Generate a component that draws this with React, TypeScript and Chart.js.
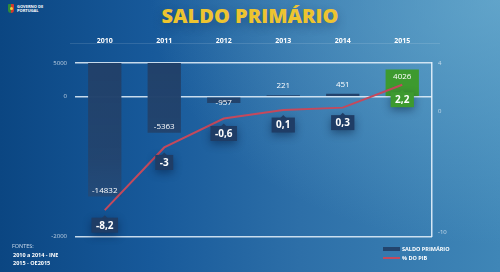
import React, { useEffect, useRef } from "react";
import { Chart, registerables } from "chart.js";

Chart.register(...registerables);

// ---- data ----
const years = ["2010", "2011", "2012", "2013", "2014", "2015"];
const saldo = [-14832, -5363, -957, 221, 451, 4026];
const barStart = [5000, 5000, 0, 0, 0, 0];
const pib = [-8.2, -3, -0.6, 0.1, 0.3, 2.2];
const leftTickValues = [5000, 0, -20800];
const leftTickLabels = ["5000", "0", "-2000"];
const rightTickValues = [4, 0, -10];
const rightTickLabels = ["4", "0", "-10"];

const LEFT_MAX = 5000;
const LEFT_MIN = -20800;
const RIGHT_MAX = 4;
const RIGHT_MIN = -10.4;

const NAVY = "#23446d";
const GREEN = "#3d9a2f";
const RED = "#c4495c";
const LABEL_NAVY = "#1f3d66";

const labelPlugin = {
  id: "valueLabels",
  afterDatasetsDraw(chart: any) {
    const ctx = chart.ctx as CanvasRenderingContext2D;
    const barMeta = chart.getDatasetMeta(0);
    const lineMeta = chart.getDatasetMeta(1);
    const last = saldo.length - 1;
    ctx.save();
    ctx.textAlign = "center";
    ctx.textBaseline = "middle";
    ctx.font = "8px 'Open Sans', sans-serif";
    ctx.fillStyle = "#ffffff";
    barMeta.data.forEach((el: any, i: number) => {
      const p = el.getProps(["x", "y", "base"], true);
      const v = saldo[i];
      const top = Math.min(p.y, p.base);
      const bottom = Math.max(p.y, p.base);
      let ty: number;
      if (v < 0) ty = bottom - top > 20 ? bottom - 6 : top + 5;
      else ty = bottom - top > 15 ? top + 7 : top - 9;
      ctx.fillText(String(v), p.x, ty);
    });

    ctx.font = "bold 10px 'Open Sans', sans-serif";
    lineMeta.data.forEach((pt: any, i: number) => {
      const p = pt.getProps(["x", "y"], true);
      const txt = String(pib[i]).replace(".", ",");
      const w = ctx.measureText(txt).width + 9;
      const h = 15;
      const cy = p.y + 15;
      const bx = p.x - w / 2;
      const by = cy - h / 2;
      ctx.save();
      ctx.shadowColor = "rgba(0,20,50,0.45)";
      ctx.shadowBlur = 8;
      ctx.shadowOffsetY = 3;
      ctx.fillStyle = i === last ? GREEN : LABEL_NAVY;
      ctx.fillRect(bx, by, w, h);
      ctx.restore();
      ctx.fillStyle = i === last ? GREEN : LABEL_NAVY;
      ctx.beginPath();
      ctx.moveTo(p.x - 3, by + 0.5);
      ctx.lineTo(p.x, by - 2.5);
      ctx.lineTo(p.x + 3, by + 0.5);
      ctx.closePath();
      ctx.fill();
      ctx.fillStyle = "#ffffff";
      ctx.fillText(txt, p.x, cy + 0.5);
    });
    ctx.restore();
  },
};

function ChartCanvas() {
  const ref = useRef<HTMLCanvasElement | null>(null);
  useEffect(() => {
    if (!ref.current) return;
    const last = saldo.length - 1;
    const chart = new Chart(ref.current, {
      data: {
        labels: years,
        datasets: [
          {
            type: "bar",
            label: "SALDO PRIMÁRIO",
            data: saldo.map((v, i) => [barStart[i], v]) as any,
            backgroundColor: (c: any) => {
              if (c.dataIndex === last) return GREEN;
              const ca = c.chart.chartArea;
              if (!ca) return NAVY;
              const g = c.chart.ctx.createLinearGradient(0, ca.top, 0, ca.bottom);
              g.addColorStop(0, "rgba(33,65,106,1)");
              g.addColorStop(0.55, "rgba(35,68,110,0.95)");
              g.addColorStop(0.85, "rgba(40,75,118,0.75)");
              g.addColorStop(1, "rgba(40,75,118,0.6)");
              return g;
            },
            borderWidth: 0,
            barPercentage: 0.56,
            categoryPercentage: 1,
            yAxisID: "y",
            order: 2,
          },
          {
            type: "line",
            label: "% DO PIB",
            data: pib,
            borderColor: RED,
            borderWidth: 2,
            pointRadius: 0,
            tension: 0,
            yAxisID: "y2",
            order: 1,
          },
        ],
      } as any,
      options: {
        animation: false,
        responsive: true,
        maintainAspectRatio: false,
        layout: { padding: { left: 0, right: 0, top: 0, bottom: 35.3 } },
        plugins: {
          legend: { display: false },
          tooltip: { enabled: false },
          title: { display: false },
        },
        scales: {
          x: {
            position: "top",
            grid: { display: false },
            border: { display: false },
            ticks: {
              color: "#ffffff",
              font: { family: "'Open Sans', sans-serif", size: 7, weight: "bold" },
              padding: 10,
              maxRotation: 0,
            },
            afterFit: (s: any) => {
              s.height = 63;
            },
          },
          y: {
            position: "left",
            min: LEFT_MIN,
            max: LEFT_MAX,
            grid: {
              color: "rgba(230,242,252,0.85)",
              lineWidth: 1.5,
              drawTicks: false,
            },
            border: { display: false },
            afterBuildTicks: (s: any) => {
              s.ticks = leftTickValues.map((v) => ({ value: v }));
            },
            ticks: {
              autoSkip: false,
              color: "rgba(225,235,245,0.8)",
              font: { family: "'Open Sans', sans-serif", size: 6 },
              padding: 8,
              callback: (v: any) => {
                const k = leftTickValues.indexOf(Number(v));
                return k >= 0 ? leftTickLabels[k] : "";
              },
            },
            afterFit: (s: any) => {
              s.width = 75;
            },
          },
          y2: {
            position: "right",
            min: RIGHT_MIN,
            max: RIGHT_MAX,
            grid: { display: false, drawTicks: false },
            border: { display: true, color: "rgba(230,242,252,0.9)", width: 1.5 },
            afterBuildTicks: (s: any) => {
              s.ticks = rightTickValues.map((v) => ({ value: v }));
            },
            ticks: {
              autoSkip: false,
              color: "rgba(225,235,245,0.8)",
              font: { family: "'Open Sans', sans-serif", size: 6 },
              padding: 6,
              callback: (v: any) => {
                const k = rightTickValues.indexOf(Number(v));
                return k >= 0 ? rightTickLabels[k] : "";
              },
            },
            afterFit: (s: any) => {
              s.width = 68;
            },
          },
        },
      } as any,
      plugins: [labelPlugin],
    });
    return () => chart.destroy();
  }, []);
  return <canvas ref={ref} />;
}

export default function App() {
  const abs = (o: React.CSSProperties): React.CSSProperties => ({ position: "absolute", ...o });
  return (
    <div
      style={{
        position: "fixed",
        left: 0,
        top: 0,
        width: 500,
        height: 272,
        overflow: "hidden",
        fontFamily: "'Open Sans', sans-serif",
        background:
          "radial-gradient(ellipse 70% 90% at 100% 0%, rgba(115,180,212,0.65), rgba(115,180,212,0) 100%), linear-gradient(90deg, #0b4682 0%, #17599a 30%, #2d6fa8 60%, #3f86b7 100%)",
      }}
    >
      {/* logo */}
      <div style={abs({ left: 8, top: 4, width: 6, height: 9, background: "linear-gradient(90deg,#2f8a3a 45%,#d23a2e 45%)", borderRadius: "1px 1px 3px 3px" })} />
      <div style={abs({ left: 9.5, top: 6.5, width: 3, height: 3, borderRadius: "50%", background: "#f2d13a" })} />
      <div style={abs({ left: 17, top: 4.5, color: "#ffffff", fontSize: 4, lineHeight: "4px", fontWeight: 700, whiteSpace: "nowrap" })}>
        GOVERNO DE
        <br />
        PORTUGAL
      </div>

      {/* title */}
      <div
        style={abs({
          left: 0,
          width: 500,
          top: 1,
          textAlign: "center",
          color: "#edc430",
          fontSize: 20,
          fontWeight: 800,
          lineHeight: "30px",
          letterSpacing: 0,
          textShadow: "0 4px 10px rgba(10,40,80,0.35)",
        })}
      >
        SALDO PRIMÁRIO
      </div>

      {/* faint top rule */}
      <div style={abs({ left: 70, top: 43, width: 370, height: 1, background: "rgba(255,255,255,0.12)" })} />

      <div style={abs({ left: 0, top: 0, width: 500, height: 272 })}>
        <ChartCanvas />
      </div>

      {/* sources */}
      <div style={abs({ left: 12, top: 243, color: "rgba(230,240,250,0.85)", fontSize: 5.5, lineHeight: "7px" })}>FONTES:</div>
      <div style={abs({ left: 13, top: 252, color: "#ffffff", fontSize: 5.5, fontWeight: 700, lineHeight: "7.5px", whiteSpace: "nowrap" })}>
        2010 a 2014 - INE
        <br />
        2015 - OE2015
      </div>

      {/* legend */}
      <div style={abs({ left: 383, top: 246.5, width: 17, height: 4.5, background: NAVY })} />
      <div style={abs({ left: 402, top: 245.5, color: "#ffffff", fontSize: 5.5, fontWeight: 700, lineHeight: "7px", whiteSpace: "nowrap" })}>SALDO PRIMÁRIO</div>
      <div style={abs({ left: 383, top: 257, width: 17, height: 1.8, background: RED })} />
      <div style={abs({ left: 402, top: 254.5, color: "#ffffff", fontSize: 5.5, fontWeight: 700, lineHeight: "7px", whiteSpace: "nowrap" })}>% DO PIB</div>
    </div>
  );
}
